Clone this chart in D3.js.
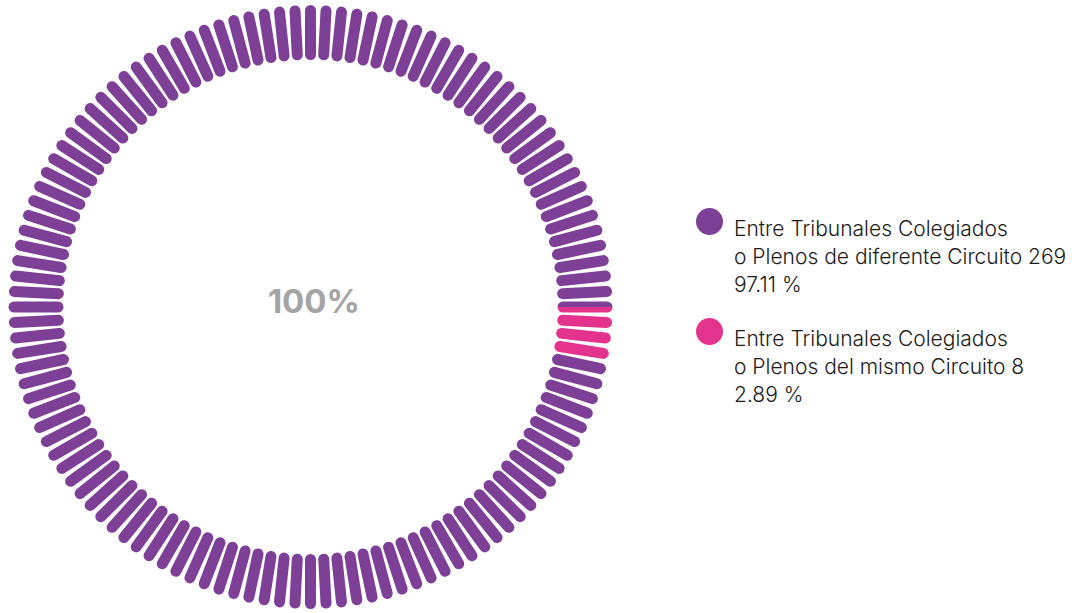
<!DOCTYPE html>
<html><head><meta charset="utf-8">
<script src="https://cdn.jsdelivr.net/npm/d3@7"></script>
<style>html,body{margin:0;padding:0;background:#fff;} svg{display:block;}</style>
</head><body>
<svg id="c" width="1076" height="613"></svg>
<script>
const categories = ["Entre Tribunales Colegiados o Plenos de diferente Circuito", "Entre Tribunales Colegiados o Plenos del mismo Circuito"];
const counts = [269, 8];
const percents = ["97.11 %", "2.89 %"];
const colors = ["#7E3F97", "#E4338C"];
const centerLabel = "100%";
const legendLines = [
  ["Entre Tribunales Colegiados", "o Plenos de diferente Circuito 269", "97.11 %"],
  ["Entre Tribunales Colegiados", "o Plenos del mismo Circuito 8", "2.89 %"]
];
const tickCount = 120;

const svg = d3.select("#c");
const cx = 310.5, cy = 307;
const rOuter = 302, rInner = 247, barW = 11;

const g = svg.append("g").attr("transform", `translate(${cx},${cy})`);

// pie: pink slice starts at 3 o'clock and goes clockwise; purple fills the rest
const order = [1, 0];
const pie = d3.pie().sort(null).value(i => counts[i])
  .startAngle(Math.PI / 2).endAngle(Math.PI / 2 + 2 * Math.PI);
const slices = pie(order);
const wedge = d3.arc().innerRadius(0).outerRadius(rOuter + 20);

const angle = d3.scaleLinear().domain([0, tickCount]).range([0, 2 * Math.PI]);
const ticks = d3.range(tickCount);

const defs = svg.append("defs");
slices.forEach((s, k) => {
  defs.append("clipPath").attr("id", "clip" + k)
    .append("path").attr("d", wedge(s));
  const grp = g.append("g").attr("clip-path", `url(#clip${k})`);
  grp.selectAll("line").data(ticks).join("line")
    .attr("x1", d => Math.sin(angle(d)) * (rInner + barW / 2))
    .attr("y1", d => -Math.cos(angle(d)) * (rInner + barW / 2))
    .attr("x2", d => Math.sin(angle(d)) * (rOuter - barW / 2))
    .attr("y2", d => -Math.cos(angle(d)) * (rOuter - barW / 2))
    .attr("stroke", colors[s.data])
    .attr("stroke-width", barW)
    .attr("stroke-linecap", "round");
});

g.append("text").attr("x", 3.5).attr("y", 6)
  .attr("text-anchor", "middle")
  .attr("font-family", "Inter, 'Noto Sans', sans-serif")
  .attr("font-weight", 700).attr("font-size", 33)
  .attr("fill", "#A4A4A4")
  .text(centerLabel);

// legend
const leg = svg.append("g");
const legY = [221.5, 331.5];
legendLines.forEach((lines, i) => {
  leg.append("circle").attr("cx", 709.5).attr("cy", legY[i]).attr("r", 13.5).attr("fill", colors[i]);
  const t = leg.append("text")
    .attr("font-family", "Inter, 'Noto Sans', sans-serif")
    .attr("font-weight", 300).attr("font-size", 21).attr("fill", "#1a1a1a");
  lines.forEach((ln, j) => {
    t.append("tspan").attr("x", 734).attr("y", legY[i] + 14.5 + j * 28).text(ln);
  });
});
</script>
</body></html>
